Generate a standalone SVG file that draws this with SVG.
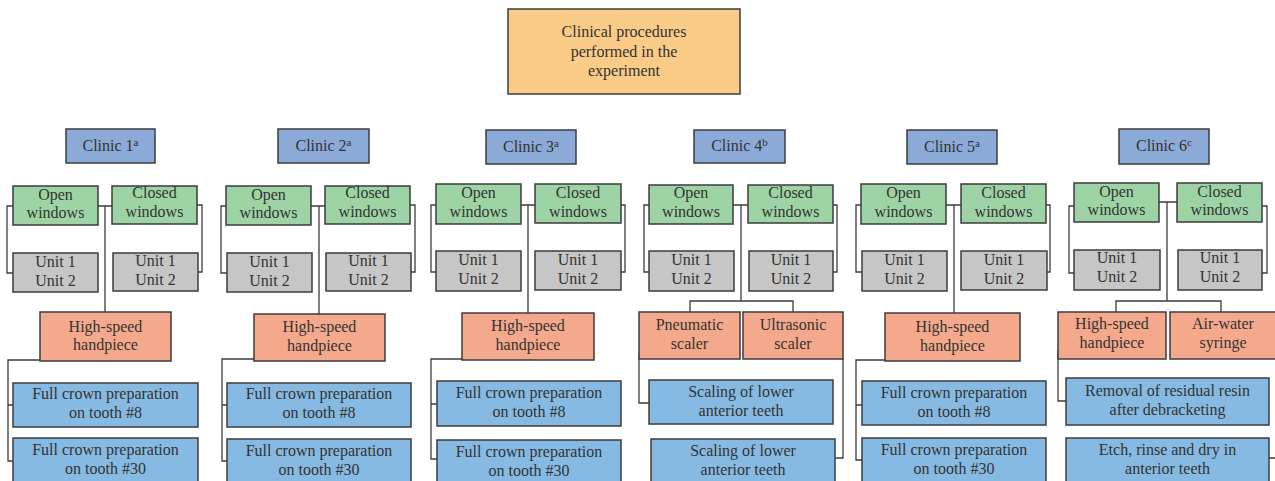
<svg xmlns="http://www.w3.org/2000/svg" width="1275" height="481" viewBox="0 0 1275 481">
<style>
.bx{stroke:#3c3c3c;stroke-width:1.5}
.top{fill:#FBCB88}
.cl{fill:#8CAAD7}
.gr{fill:#9DD3A5}
.un{fill:#C6C6C6}
.sa{fill:#F5A98C}
.bl{fill:#86BAE2}
.t{font-family:"Liberation Serif",serif;font-size:16px;fill:#333;text-anchor:middle}
.sup{font-size:11px}
.cn{fill:none;stroke:#3c3c3c;stroke-width:1.3}
</style>
<rect width="1275" height="481" fill="#fff"/>
<g id="connectors">
<path class="cn" d="M13,206H7V273H13M197,205H202V272H198M98,206H112M105,206V312M40,360H8V461H13M8,405H13"/>
<path class="cn" d="M226,206H221V273H227M410,205H415V272H411M311,206H325M319,206V314M254,359H222V461H227M222,405H227"/>
<path class="cn" d="M436,205H431V272H436M621,205H625V272H621M521,205H535M528,205V313M462,359H431V459H437M431,404H437"/>
<path class="cn" d="M649,205H644V272H649M833,205H837V272H833M733,205H748M741,205V301M690,312V301H793V312M639,353V403H649M843,358V458H835"/>
<path class="cn" d="M861,205H856V272H862M1046,205H1050V272H1047M946,205H961M954,205V313M885,360H856V460H862M856,405H862"/>
<path class="cn" d="M1074,206H1069V273H1074M1262,206H1267V273H1262M1159,202H1177M1167,202V301M1116,312V301H1221V312M1058,350V401H1066M1269,458H1276"/>
</g>
<g id="root"><rect class="bx top" x="508" y="9" width="232" height="85"/>
<text class="t" x="624" y="37">Clinical procedures</text><text class="t" x="624" y="57">performed in the</text><text class="t" x="624" y="76">experiment</text></g>

<g id="clinic1">
<g id="c1-head"><rect class="bx cl" x="66" y="129" width="89" height="34"/><text class="t" x="110.5" y="151">Clinic 1<tspan class="sup" dy="-5">a</tspan></text></g>
<g id="c1-open"><rect class="bx gr" x="13" y="186" width="85" height="39"/><text class="t" x="55.5" y="200">Open</text><text class="t" x="55.5" y="218">windows</text></g>
<g id="c1-closed"><rect class="bx gr" x="112" y="186" width="85" height="38"/><text class="t" x="154.5" y="198">Closed</text><text class="t" x="154.5" y="217">windows</text></g>
<g id="c1-unitL"><rect class="bx un" x="13" y="253" width="85" height="39"/><text class="t" x="55.5" y="267">Unit 1</text><text class="t" x="55.5" y="286">Unit 2</text></g>
<g id="c1-unitR"><rect class="bx un" x="113" y="253" width="85" height="38"/><text class="t" x="155.5" y="266">Unit 1</text><text class="t" x="155.5" y="285">Unit 2</text></g>
<g id="c1-hsh"><rect class="bx sa" x="40" y="312" width="131" height="49"/><text class="t" x="105.5" y="332">High-speed</text><text class="t" x="105.5" y="350">handpiece</text></g>
<g id="c1-p1"><rect class="bx bl" x="13" y="383" width="185" height="44"/><text class="t" x="105.5" y="399">Full crown preparation</text><text class="t" x="105.5" y="418">on tooth #8</text></g>
<g id="c1-p2"><rect class="bx bl" x="13" y="438" width="185" height="50"/><text class="t" x="105.5" y="455">Full crown preparation</text><text class="t" x="105.5" y="474">on tooth #30</text></g>
</g>

<g id="clinic2">
<g id="c2-head"><rect class="bx cl" x="278" y="129" width="91" height="34"/><text class="t" x="323.5" y="151">Clinic 2<tspan class="sup" dy="-5">a</tspan></text></g>
<g id="c2-open"><rect class="bx gr" x="226" y="186" width="85" height="39"/><text class="t" x="268.5" y="200">Open</text><text class="t" x="268.5" y="218">windows</text></g>
<g id="c2-closed"><rect class="bx gr" x="325" y="186" width="85" height="38"/><text class="t" x="367.5" y="198">Closed</text><text class="t" x="367.5" y="217">windows</text></g>
<g id="c2-unitL"><rect class="bx un" x="227" y="253" width="85" height="39"/><text class="t" x="269.5" y="267">Unit 1</text><text class="t" x="269.5" y="286">Unit 2</text></g>
<g id="c2-unitR"><rect class="bx un" x="326" y="253" width="85" height="38"/><text class="t" x="368.5" y="266">Unit 1</text><text class="t" x="368.5" y="285">Unit 2</text></g>
<g id="c2-hsh"><rect class="bx sa" x="254" y="314" width="131" height="47"/><text class="t" x="319.5" y="332">High-speed</text><text class="t" x="319.5" y="351">handpiece</text></g>
<g id="c2-p1"><rect class="bx bl" x="227" y="383" width="184" height="44"/><text class="t" x="319" y="399">Full crown preparation</text><text class="t" x="319" y="418">on tooth #8</text></g>
<g id="c2-p2"><rect class="bx bl" x="227" y="439" width="184" height="50"/><text class="t" x="319" y="456">Full crown preparation</text><text class="t" x="319" y="475">on tooth #30</text></g>
</g>

<g id="clinic3">
<g id="c3-head"><rect class="bx cl" x="486" y="130" width="90" height="34"/><text class="t" x="531" y="152">Clinic 3<tspan class="sup" dy="-5">a</tspan></text></g>
<g id="c3-open"><rect class="bx gr" x="436" y="184" width="85" height="40"/><text class="t" x="478.5" y="198">Open</text><text class="t" x="478.5" y="217">windows</text></g>
<g id="c3-closed"><rect class="bx gr" x="535" y="184" width="86" height="39"/><text class="t" x="578" y="198">Closed</text><text class="t" x="578" y="217">windows</text></g>
<g id="c3-unitL"><rect class="bx un" x="436" y="251" width="85" height="40"/><text class="t" x="478.5" y="265">Unit 1</text><text class="t" x="478.5" y="284">Unit 2</text></g>
<g id="c3-unitR"><rect class="bx un" x="535" y="251" width="86" height="39"/><text class="t" x="578" y="265">Unit 1</text><text class="t" x="578" y="284">Unit 2</text></g>
<g id="c3-hsh"><rect class="bx sa" x="462" y="313" width="132" height="47"/><text class="t" x="528" y="331">High-speed</text><text class="t" x="528" y="350">handpiece</text></g>
<g id="c3-p1"><rect class="bx bl" x="437" y="381" width="184" height="45"/><text class="t" x="529" y="398">Full crown preparation</text><text class="t" x="529" y="417">on tooth #8</text></g>
<g id="c3-p2"><rect class="bx bl" x="437" y="440" width="184" height="50"/><text class="t" x="529" y="457">Full crown preparation</text><text class="t" x="529" y="476">on tooth #30</text></g>
</g>

<g id="clinic4">
<g id="c4-head"><rect class="bx cl" x="694" y="130" width="91" height="33"/><text class="t" x="739.5" y="151">Clinic 4<tspan class="sup" dy="-5">b</tspan></text></g>
<g id="c4-open"><rect class="bx gr" x="649" y="185" width="84" height="39"/><text class="t" x="691" y="198">Open</text><text class="t" x="691" y="217">windows</text></g>
<g id="c4-closed"><rect class="bx gr" x="748" y="185" width="85" height="38"/><text class="t" x="790.5" y="198">Closed</text><text class="t" x="790.5" y="217">windows</text></g>
<g id="c4-unitL"><rect class="bx un" x="649" y="251" width="85" height="40"/><text class="t" x="691.5" y="265">Unit 1</text><text class="t" x="691.5" y="284">Unit 2</text></g>
<g id="c4-unitR"><rect class="bx un" x="749" y="251" width="84" height="40"/><text class="t" x="791" y="265">Unit 1</text><text class="t" x="791" y="284">Unit 2</text></g>
<g id="c4-pneu"><rect class="bx sa" x="639" y="312" width="101" height="47"/><text class="t" x="689.5" y="330">Pneumatic</text><text class="t" x="689.5" y="349">scaler</text></g>
<g id="c4-ultra"><rect class="bx sa" x="743" y="312" width="100" height="47"/><text class="t" x="793" y="330">Ultrasonic</text><text class="t" x="793" y="349">scaler</text></g>
<g id="c4-p1"><rect class="bx bl" x="649" y="380" width="184" height="44"/><text class="t" x="741" y="397">Scaling of lower</text><text class="t" x="741" y="416">anterior teeth</text></g>
<g id="c4-p2"><rect class="bx bl" x="651" y="439" width="184" height="50"/><text class="t" x="743" y="456">Scaling of lower</text><text class="t" x="743" y="475">anterior teeth</text></g>
</g>

<g id="clinic5">
<g id="c5-head"><rect class="bx cl" x="907" y="130" width="90" height="34"/><text class="t" x="952" y="152">Clinic 5<tspan class="sup" dy="-5">a</tspan></text></g>
<g id="c5-open"><rect class="bx gr" x="861" y="184" width="85" height="40"/><text class="t" x="903.5" y="198">Open</text><text class="t" x="903.5" y="217">windows</text></g>
<g id="c5-closed"><rect class="bx gr" x="961" y="184" width="85" height="39"/><text class="t" x="1003.5" y="198">Closed</text><text class="t" x="1003.5" y="217">windows</text></g>
<g id="c5-unitL"><rect class="bx un" x="862" y="251" width="85" height="40"/><text class="t" x="904.5" y="265">Unit 1</text><text class="t" x="904.5" y="284">Unit 2</text></g>
<g id="c5-unitR"><rect class="bx un" x="961" y="251" width="86" height="39"/><text class="t" x="1004" y="265">Unit 1</text><text class="t" x="1004" y="284">Unit 2</text></g>
<g id="c5-hsh"><rect class="bx sa" x="885" y="313" width="135" height="48"/><text class="t" x="952.5" y="332">High-speed</text><text class="t" x="952.5" y="351">handpiece</text></g>
<g id="c5-p1"><rect class="bx bl" x="862" y="381" width="184" height="44"/><text class="t" x="954" y="398">Full crown preparation</text><text class="t" x="954" y="417">on tooth #8</text></g>
<g id="c5-p2"><rect class="bx bl" x="862" y="438" width="184" height="50"/><text class="t" x="954" y="455">Full crown preparation</text><text class="t" x="954" y="474">on tooth #30</text></g>
</g>

<g id="clinic6">
<g id="c6-head"><rect class="bx cl" x="1119" y="129" width="90" height="35"/><text class="t" x="1164" y="151">Clinic 6<tspan class="sup" dy="-5">c</tspan></text></g>
<g id="c6-open"><rect class="bx gr" x="1074" y="183" width="85" height="39"/><text class="t" x="1116.5" y="197">Open</text><text class="t" x="1116.5" y="215">windows</text></g>
<g id="c6-closed"><rect class="bx gr" x="1177" y="183" width="85" height="39"/><text class="t" x="1219.5" y="197">Closed</text><text class="t" x="1219.5" y="215">windows</text></g>
<g id="c6-unitL"><rect class="bx un" x="1074" y="250" width="86" height="40"/><text class="t" x="1117" y="263">Unit 1</text><text class="t" x="1117" y="282">Unit 2</text></g>
<g id="c6-unitR"><rect class="bx un" x="1178" y="250" width="84" height="40"/><text class="t" x="1220" y="263">Unit 1</text><text class="t" x="1220" y="282">Unit 2</text></g>
<g id="c6-hsh"><rect class="bx sa" x="1058" y="312" width="108" height="47"/><text class="t" x="1112" y="329">High-speed</text><text class="t" x="1112" y="348">handpiece</text></g>
<g id="c6-aw"><rect class="bx sa" x="1170" y="312" width="108" height="47"/><text class="t" x="1223" y="329">Air-water</text><text class="t" x="1223" y="348">syringe</text></g>
<g id="c6-p1"><rect class="bx bl" x="1066" y="378" width="203" height="47"/><text class="t" x="1167.5" y="396">Removal of residual resin</text><text class="t" x="1167.5" y="415">after debracketing</text></g>
<g id="c6-p2"><rect class="bx bl" x="1066" y="438" width="203" height="50"/><text class="t" x="1167.5" y="455">Etch, rinse and dry in</text><text class="t" x="1167.5" y="474">anterior teeth</text></g>
</g>
</svg>
